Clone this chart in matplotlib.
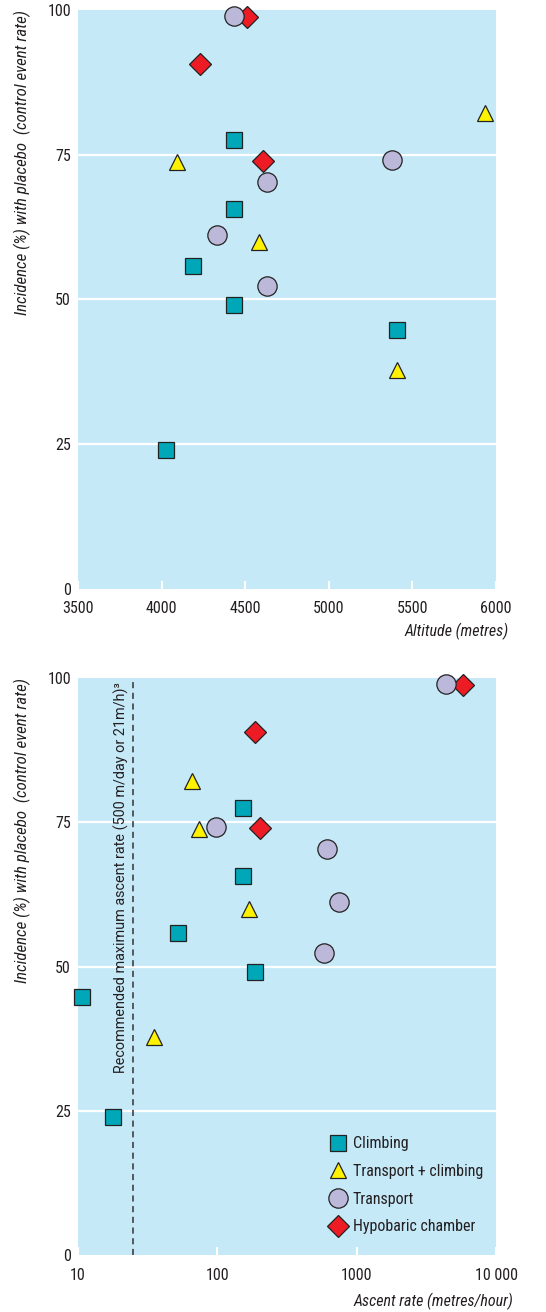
import matplotlib
matplotlib.use("Agg")
import matplotlib.pyplot as plt
import matplotlib.transforms as mtransforms
from matplotlib.lines import Line2D

plt.rcParams['font.family'] = ['Roboto Condensed', 'Liberation Sans', 'DejaVu Sans']

# ---------------- data ----------------
groups = ["Climbing", "Transport + climbing", "Transport", "Hypobaric chamber"]

climb_incidence = [77.5, 65.7, 55.8, 49.0, 44.8, 24.0]
climb_altitude = [4433, 4433, 4188, 4433, 5408, 4026]
climb_ascent = [152, 152, 52.5, 187, 10.7, 17.7]

tc_incidence = [82.2, 73.8, 60.0, 37.8]
tc_altitude = [5934, 4092, 4583, 5408]
tc_ascent = [66.2, 74.3, 170, 35.3]

transport_incidence = [99.0, 74.1, 70.3, 61.2, 52.3]
transport_altitude = [4433, 5378, 4630, 4331, 4630]
transport_ascent = [4385, 98, 612, 751, 586]

hypo_incidence = [98.8, 90.6, 74.0]
hypo_altitude = [4511, 4230, 4607]
hypo_ascent = [5838, 187, 203]

recommended_rate = 24.7

alt_ticks = [3500, 4000, 4500, 5000, 5500, 6000]
rate_ticks = [10, 100, 1000, 10000]
rate_ticklabels = ["10", "100", "1000", "10 000"]
y_ticks = [0, 25, 50, 75, 100]
grid_vals = [25, 50, 75]

# ---------------- style ----------------
BG = "#C6E9F8"
FS = 11.5
FS_Y = 12.2
TXT = "#231F20"
styles = {
    "Climbing": dict(marker="s", ms=12.2, color="#00A7B8", z=3),
    "Transport + climbing": dict(marker="^", ms=12.2, color="#FFF200", z=3),
    "Transport": dict(marker="o", ms=13.9, color="#BCB8DA", z=5),
    "Hypobaric chamber": dict(marker="D", ms=11.3, color="#ED1C24", z=4),
}

fig = plt.figure(figsize=(5.46, 13.12), dpi=100)
ax1 = fig.add_axes([0.1429, 0.5511, 0.7656, 0.4413])
ax2 = fig.add_axes([0.1429, 0.0434, 0.7656, 0.4398])

top_data = {
    "Climbing": (climb_altitude, climb_incidence),
    "Transport + climbing": (tc_altitude, tc_incidence),
    "Transport": (transport_altitude, transport_incidence),
    "Hypobaric chamber": (hypo_altitude, hypo_incidence),
}
bot_data = {
    "Climbing": (climb_ascent, climb_incidence),
    "Transport + climbing": (tc_ascent, tc_incidence),
    "Transport": (transport_ascent, transport_incidence),
    "Hypobaric chamber": (hypo_ascent, hypo_incidence),
}

def base_axes(ax):
    ax.set_facecolor(BG)
    for s in ax.spines.values():
        s.set_visible(False)
    ax.set_ylim(0, 100)
    ax.set_yticks(y_ticks)
    ax.tick_params(axis="y", length=0, pad=5, labelsize=FS, colors=TXT)
    ax.tick_params(axis="x", direction="in", length=6, width=1.5, color="white",
                   pad=9, labelsize=FS, labelcolor=TXT)
    for g in grid_vals:
        ax.axhline(g, color="white", lw=1.6, zorder=1)
    ax.text(-0.132, 1.0, "Incidence (%) with placebo  (control event rate)",
            transform=ax.transAxes, rotation=90, ha="center", va="top",
            fontsize=FS_Y, style="italic", color=TXT)

def plot_groups(ax, data):
    for g in groups:
        x, y = data[g]
        st = styles[g]
        ax.plot(x, y, linestyle="none", marker=st["marker"], ms=st["ms"],
                mfc=st["color"], mec="#222222", mew=0.9, zorder=st["z"],
                clip_on=False, label=g)

# top panel
base_axes(ax1)
ax1.set_xlim(3500, 6000)
ax1.set_xticks(alt_ticks)
plot_groups(ax1, top_data)
ax1.text(1.031, -0.074, "Altitude (metres)", transform=ax1.transAxes,
         ha="right", va="center", fontsize=FS, style="italic", color=TXT)

# bottom panel
base_axes(ax2)
ax2.set_xscale("log")
ax2.set_xlim(10, 10000)
ax2.set_xticks(rate_ticks)
ax2.set_xticklabels(rate_ticklabels)
ax2.xaxis.set_minor_locator(matplotlib.ticker.NullLocator())
ax2.axvline(recommended_rate, color="#333333", lw=1.1, ls=(0, (4, 3)), zorder=2)
trans = mtransforms.blended_transform_factory(ax2.transData, ax2.transAxes)
ax2.annotate("Recommended maximum ascent rate (500 m/day or 21m/h)\u00b3",
             xy=(recommended_rate, 1.0), xycoords=trans,
             xytext=(-3, -3), textcoords="offset points",
             rotation=90, ha="right", va="top", fontsize=10.4, color=TXT,
             family=["Roboto", "Liberation Sans", "DejaVu Sans"], zorder=6)
plot_groups(ax2, bot_data)
ax2.text(1.041, -0.081, "Ascent rate (metres/hour)", transform=ax2.transAxes,
         ha="right", va="center", fontsize=FS, style="italic", color=TXT)

handles = []
for g in groups:
    st = styles[g]
    handles.append(Line2D([], [], linestyle="none", marker=st["marker"], ms=st["ms"],
                          mfc=st["color"], mec="#222222", mew=0.9, label=g))
leg = ax2.legend(handles=handles, loc="upper left", bbox_to_anchor=(0.597, 0.2055),
                 frameon=False, fontsize=FS, borderpad=0, borderaxespad=0,
                 handlelength=1.35, handletextpad=0.24, labelspacing=0.785,
                 labelcolor=TXT)

fig.savefig("out.png", dpi=100)
